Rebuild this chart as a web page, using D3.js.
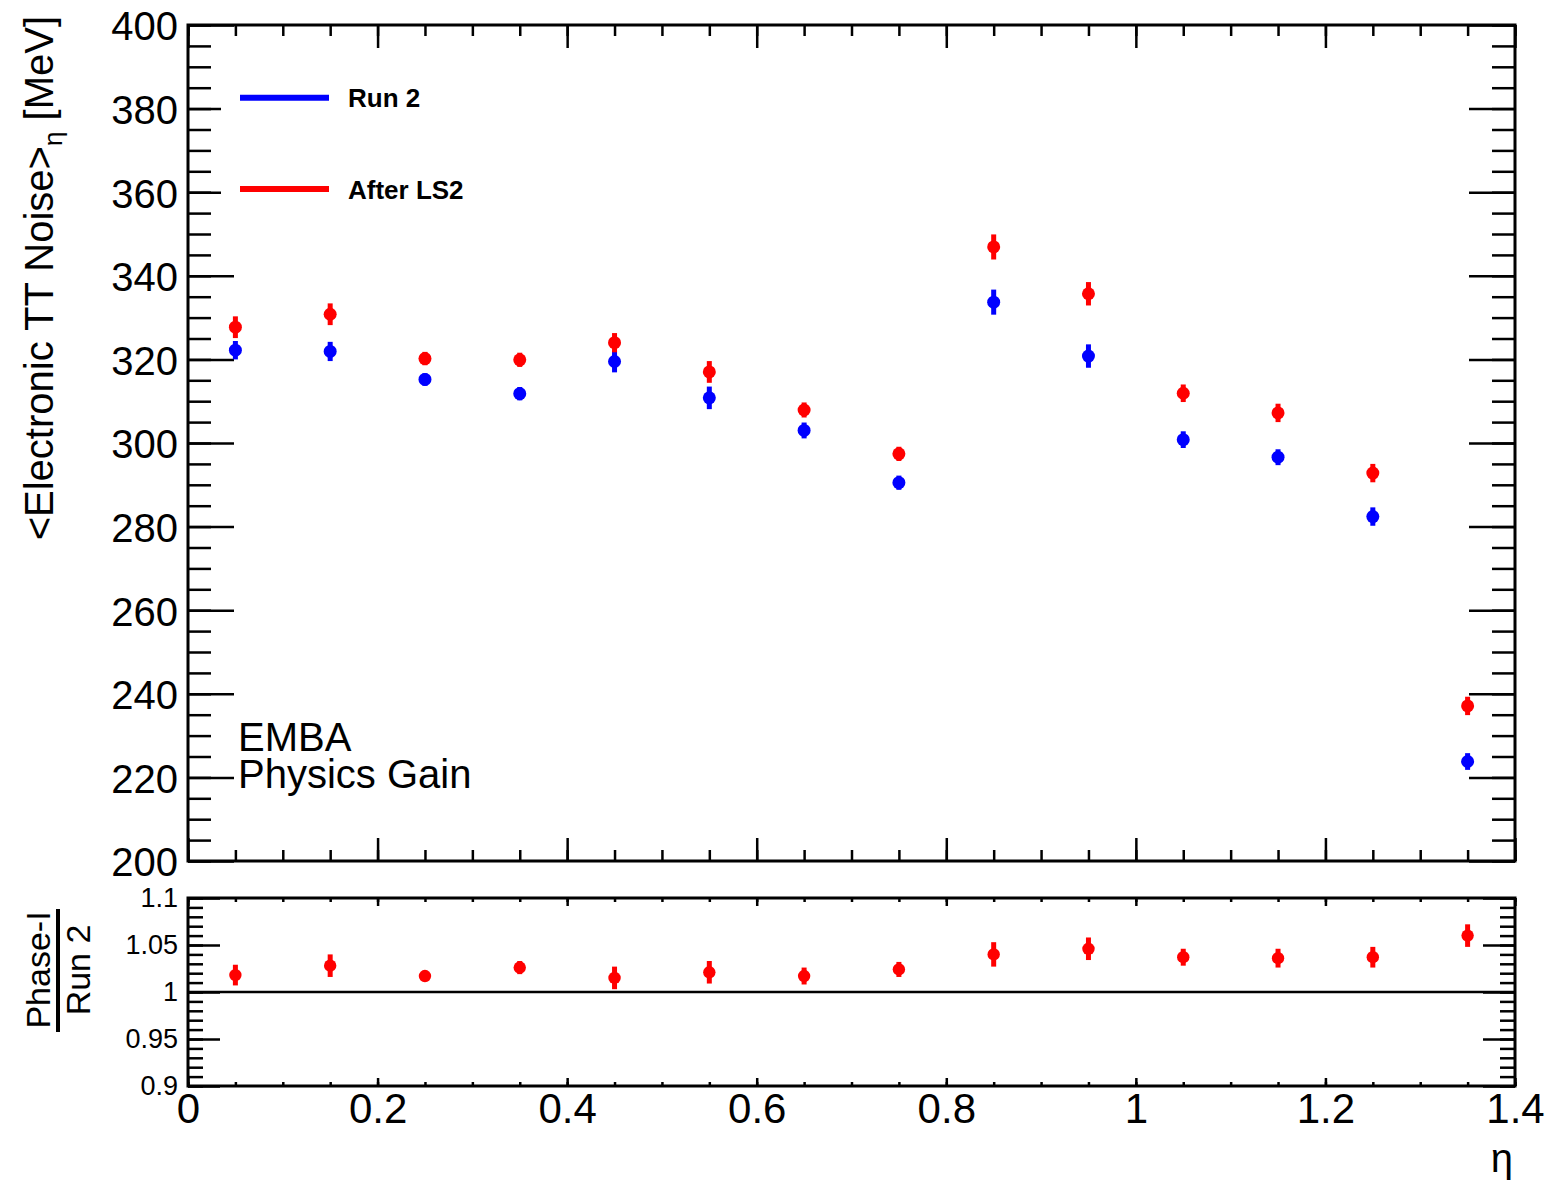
<!DOCTYPE html>
<html>
<head>
<meta charset="utf-8">
<script src="https://cdn.jsdelivr.net/npm/d3@7"></script>
<style>
  body { margin: 0; background: #fff; }
  svg { font-family: "Liberation Sans", Arial, sans-serif; }
</style>
</head>
<body>
<svg id="chart" width="1550" height="1185"></svg>
<script>
// eta bin centres
var etaBins = [0.05, 0.15, 0.25, 0.35, 0.45, 0.55, 0.65, 0.75, 0.85, 0.95, 1.05, 1.15, 1.25, 1.35];

// <Electronic TT Noise> [MeV]
var run2     = [322.2, 321.9, 315.2, 311.8, 319.5, 310.8, 303.0, 290.5, 333.7, 320.8, 300.8, 296.6, 282.4, 223.8];
var run2Err  = [2.2, 2.3, 1.5, 1.6, 2.6, 2.7, 1.9, 1.7, 3.0, 2.8, 2.0, 1.9, 2.2, 2.0];
var afterLS2    = [327.7, 330.8, 320.2, 319.9, 324.0, 317.0, 307.9, 297.4, 346.9, 335.7, 311.9, 307.2, 292.8, 237.1];
var afterLS2Err = [2.6, 2.6, 1.6, 1.7, 2.3, 2.6, 1.8, 1.7, 3.0, 2.8, 2.1, 2.2, 2.2, 2.2];

// Phase-I / Run 2
var ratio    = [1.018, 1.028, 1.017, 1.026, 1.015, 1.021, 1.017, 1.024, 1.040, 1.046, 1.037, 1.036, 1.037, 1.060];
var ratioErr = [0.011, 0.012, 0.005, 0.007, 0.012, 0.012, 0.009, 0.008, 0.013, 0.012, 0.009, 0.010, 0.011, 0.012];

// tick labels
var xTicks = [0, 0.2, 0.4, 0.6, 0.8, 1, 1.2, 1.4];
var yTicks = [200, 220, 240, 260, 280, 300, 320, 340, 360, 380, 400];
var rTicks = [0.9, 0.95, 1, 1.05, 1.1];

var legendNames = ["Run 2", "After LS2"];
var colors = ["#0000ff", "#ff0000"];

// layout
var left = 188, right = 1515;
var mainTop = 25, mainBottom = 861;
var lowTop = 898, lowBottom = 1086;

var svg = d3.select("#chart");

var x = d3.scaleLinear().domain([0, 1.4]).range([left, right]);
var y = d3.scaleLinear().domain([200, 400]).range([mainBottom, mainTop]);
var yr = d3.scaleLinear().domain([0.9, 1.1]).range([lowBottom, lowTop]);

var xMinor = d3.range(0, 1.40001, 0.05);
var yMinor = d3.range(200, 400.001, 5);
var rMinor = d3.range(0.9, 1.10001, 0.01);

function styleAxis(g, fontSize) {
  g.select(".domain").remove();
  g.selectAll(".tick line").attr("stroke", "#000").attr("stroke-width", 2.5);
  g.selectAll(".tick text")
    .attr("fill", "#000")
    .style("font-family", "'Liberation Sans', Arial, sans-serif")
    .style("font-size", fontSize + "px");
}

function drawAxis(gen, tx, ty, fontSize) {
  var g = svg.append("g").attr("transform", "translate(" + tx + "," + ty + ")").call(gen);
  styleAxis(g, fontSize || 10);
  return g;
}

// ---------- main panel ticks ----------
drawAxis(d3.axisLeft(y).tickValues(yMinor).tickSize(-23).tickFormat(""), left, 0);
drawAxis(d3.axisRight(y).tickValues(yMinor).tickSize(-23).tickFormat(""), right, 0);
var yAxisG = drawAxis(d3.axisLeft(y).tickValues(yTicks).tickSize(-46).tickPadding(10).tickFormat(d3.format("d")), left, 0, 40);
yAxisG.selectAll(".tick text").attr("dy", "0.37em");
drawAxis(d3.axisRight(y).tickValues(yTicks).tickSize(-46).tickFormat(""), right, 0);

drawAxis(d3.axisBottom(x).tickValues(xMinor).tickSize(-11).tickFormat(""), 0, mainBottom);
drawAxis(d3.axisTop(x).tickValues(xMinor).tickSize(-11).tickFormat(""), 0, mainTop);
drawAxis(d3.axisBottom(x).tickValues(xTicks).tickSize(-23).tickFormat(""), 0, mainBottom);
drawAxis(d3.axisTop(x).tickValues(xTicks).tickSize(-23).tickFormat(""), 0, mainTop);

// ---------- lower panel ticks ----------
drawAxis(d3.axisLeft(yr).tickValues(rMinor).tickSize(-15).tickFormat(""), left, 0);
drawAxis(d3.axisRight(yr).tickValues(rMinor).tickSize(-15).tickFormat(""), right, 0);
drawAxis(d3.axisLeft(yr).tickValues(rTicks).tickSize(-32).tickPadding(10).tickFormat(d3.format("~g")), left, 0, 27);
drawAxis(d3.axisRight(yr).tickValues(rTicks).tickSize(-32).tickFormat(""), right, 0);

drawAxis(d3.axisTop(x).tickValues(xMinor).tickSize(-4).tickFormat(""), 0, lowTop);
drawAxis(d3.axisBottom(x).tickValues(xMinor).tickSize(-4).tickFormat(""), 0, lowBottom);
drawAxis(d3.axisTop(x).tickValues(xTicks).tickSize(-8).tickFormat(""), 0, lowTop);
drawAxis(d3.axisBottom(x).tickValues(xTicks).tickSize(-8).tickPadding(7).tickFormat(d3.format("~g")), 0, lowBottom, 42);

// reference line at 1
svg.append("line")
  .attr("x1", left).attr("x2", right)
  .attr("y1", yr(1)).attr("y2", yr(1))
  .attr("stroke", "#000").attr("stroke-width", 2.5);

// ---------- legend (white box hides part of the ticks) ----------
svg.append("rect")
  .attr("x", 221).attr("y", 55).attr("width", 280).attr("height", 180)
  .attr("fill", "#fff");

var legendY = [97.7, 189];
legendNames.forEach(function(name, i) {
  svg.append("line")
    .attr("x1", 240).attr("x2", 329)
    .attr("y1", legendY[i]).attr("y2", legendY[i])
    .attr("stroke", colors[i]).attr("stroke-width", 6);
  svg.append("text")
    .attr("x", 348).attr("y", legendY[i] + 9.5)
    .style("font-size", "26px").style("font-weight", "bold")
    .text(name);
});

// ---------- data points ----------
function drawPoints(vals, errs, scale, color, r) {
  var data = etaBins.map(function(e, i) { return {x: e, v: vals[i], e: errs[i]}; });
  var g = svg.append("g");
  g.selectAll("line")
    .data(data).enter().append("line")
      .attr("x1", d => x(d.x)).attr("x2", d => x(d.x))
      .attr("y1", d => scale(d.v - d.e)).attr("y2", d => scale(d.v + d.e))
      .attr("stroke", color).attr("stroke-width", 5);
  g.selectAll("circle")
    .data(data).enter().append("circle")
      .attr("cx", d => x(d.x)).attr("cy", d => scale(d.v))
      .attr("r", r).attr("fill", color);
}

drawPoints(run2, run2Err, y, colors[0], 6.5);
drawPoints(afterLS2, afterLS2Err, y, colors[1], 6.5);
drawPoints(ratio, ratioErr, yr, colors[1], 6.2);

// ---------- frames ----------
svg.append("rect")
  .attr("x", left).attr("y", mainTop)
  .attr("width", right - left).attr("height", mainBottom - mainTop)
  .attr("fill", "none").attr("stroke", "#000").attr("stroke-width", 3);
svg.append("rect")
  .attr("x", left).attr("y", lowTop)
  .attr("width", right - left).attr("height", lowBottom - lowTop)
  .attr("fill", "none").attr("stroke", "#000").attr("stroke-width", 3);

// ---------- labels ----------
svg.append("text")
  .attr("x", 238).attr("y", 751)
  .style("font-size", "40px")
  .text("EMBA");
svg.append("text")
  .attr("x", 238).attr("y", 788)
  .style("font-size", "40px")
  .text("Physics Gain");

// y axis title
var yTitle = svg.append("text")
  .attr("transform", "translate(53,16) rotate(-90)")
  .attr("text-anchor", "end")
  .style("font-size", "40px");
yTitle.append("tspan").text("<Electronic TT Noise>");
yTitle.append("tspan").attr("dy", 9).style("font-size", "26px").text("η");
yTitle.append("tspan").attr("dy", -9).text(" [MeV]");

// ratio title as a fraction
svg.append("text")
  .attr("transform", "translate(50,970) rotate(-90)")
  .attr("text-anchor", "middle")
  .style("font-size", "34px")
  .text("Phase-I");
svg.append("text")
  .attr("transform", "translate(90,970) rotate(-90)")
  .attr("text-anchor", "middle")
  .style("font-size", "34px")
  .text("Run 2");
svg.append("line")
  .attr("x1", 58).attr("x2", 58)
  .attr("y1", 909).attr("y2", 1032)
  .attr("stroke", "#000").attr("stroke-width", 4);

// x axis title
svg.append("text")
  .attr("x", 1513).attr("y", 1172)
  .attr("text-anchor", "end")
  .style("font-size", "40px")
  .text("η");
</script>
</body>
</html>
